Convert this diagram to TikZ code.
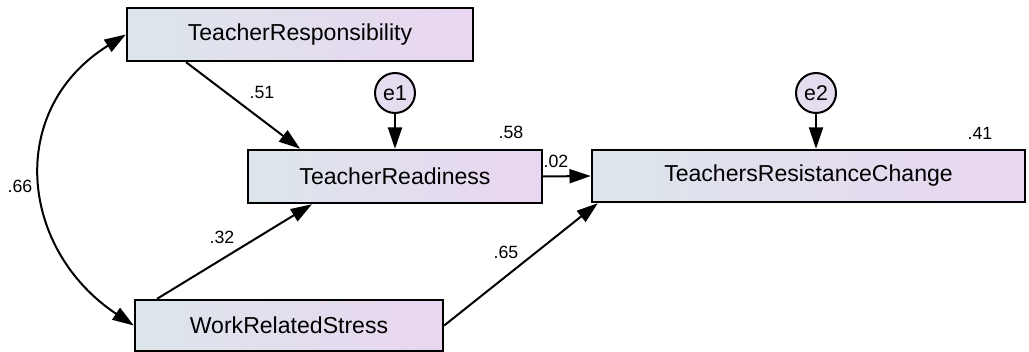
\documentclass[tikz,border=0pt]{standalone}
\usepackage{fontspec}
\setmainfont{Liberation Sans}
\usetikzlibrary{arrows.meta,calc}
\definecolor{gleft}{HTML}{DCE6EA}
\definecolor{gright}{HTML}{E9D6F1}
\definecolor{efill}{HTML}{E6DCF0}
\begin{document}
\begin{tikzpicture}[x=0.75pt,y=-0.75pt,
  varbox/.style={draw=black,line width=1.8pt,left color=gleft,right color=gright,
    inner sep=0pt,font=\fontsize{17.3}{20}\selectfont},
  errc/.style={draw=black,line width=1.5pt,fill=efill,circle,minimum size=30pt,inner sep=0pt,
    font=\fontsize{16}{18}\selectfont},
  path/.style={line width=1.5pt,-{Triangle[length=16pt,width=10.5pt]}},
  coef/.style={font=\fontsize{13.3}{15}\selectfont,inner sep=0pt}]
\useasboundingbox (0,0) rectangle (1029,352);
\node[coef] (l02) at (553,161) {-.02};
\node[varbox,minimum width=259.5pt,minimum height=39.75pt] (TR) at (300,34.5) {TeacherResponsibility};
\node[varbox,minimum width=220.5pt,minimum height=39.75pt] (RD) at (395,176.5) {TeacherReadiness};
\node[varbox,minimum width=324.75pt,minimum height=39pt] (TRC) at (808.5,176) {TeachersResistanceChange};
\node[varbox,minimum width=231pt,minimum height=38.25pt] (WRS) at (289,325.5) {WorkRelatedStress};
\node[errc] (e1) at (395,93) {e1};
\node[errc] (e2) at (816,93) {e2};
\node[coef] (l66) at (20,186) {.66};
\node[coef] (l51) at (262,92) {.51};
\node[coef] (l58) at (511,132) {.58};
\node[coef] (l41) at (980,133) {.41};
\node[coef] (l32) at (222,237) {.32};
\node[coef] (l65) at (506,252) {.65};
\draw[path] ($(TR.south west)!0.173!(TR.south east)$) -- ($(RD.north west)!0.18!(RD.north east)$);
\draw[path] ($(WRS.north west)!0.075!(WRS.north east)$) -- ($(RD.south west)!0.22!(RD.south east)$);
\draw[path] (WRS.east) -- ($(TRC.south west)+(7,0)$);
\draw[path] (RD.east) -- (TRC.west);
\draw[path] (e1.south) -- (RD.north);
\draw[path] (e2.south) -- (e2.south |- TRC.north);
\draw[line width=1.5pt,{Triangle[length=16pt,width=10.5pt]}-{Triangle[length=16pt,width=10.5pt]}]
  (TR.west) .. controls (5,110) and (20,250) .. (WRS.west);
\end{tikzpicture}
\end{document}
